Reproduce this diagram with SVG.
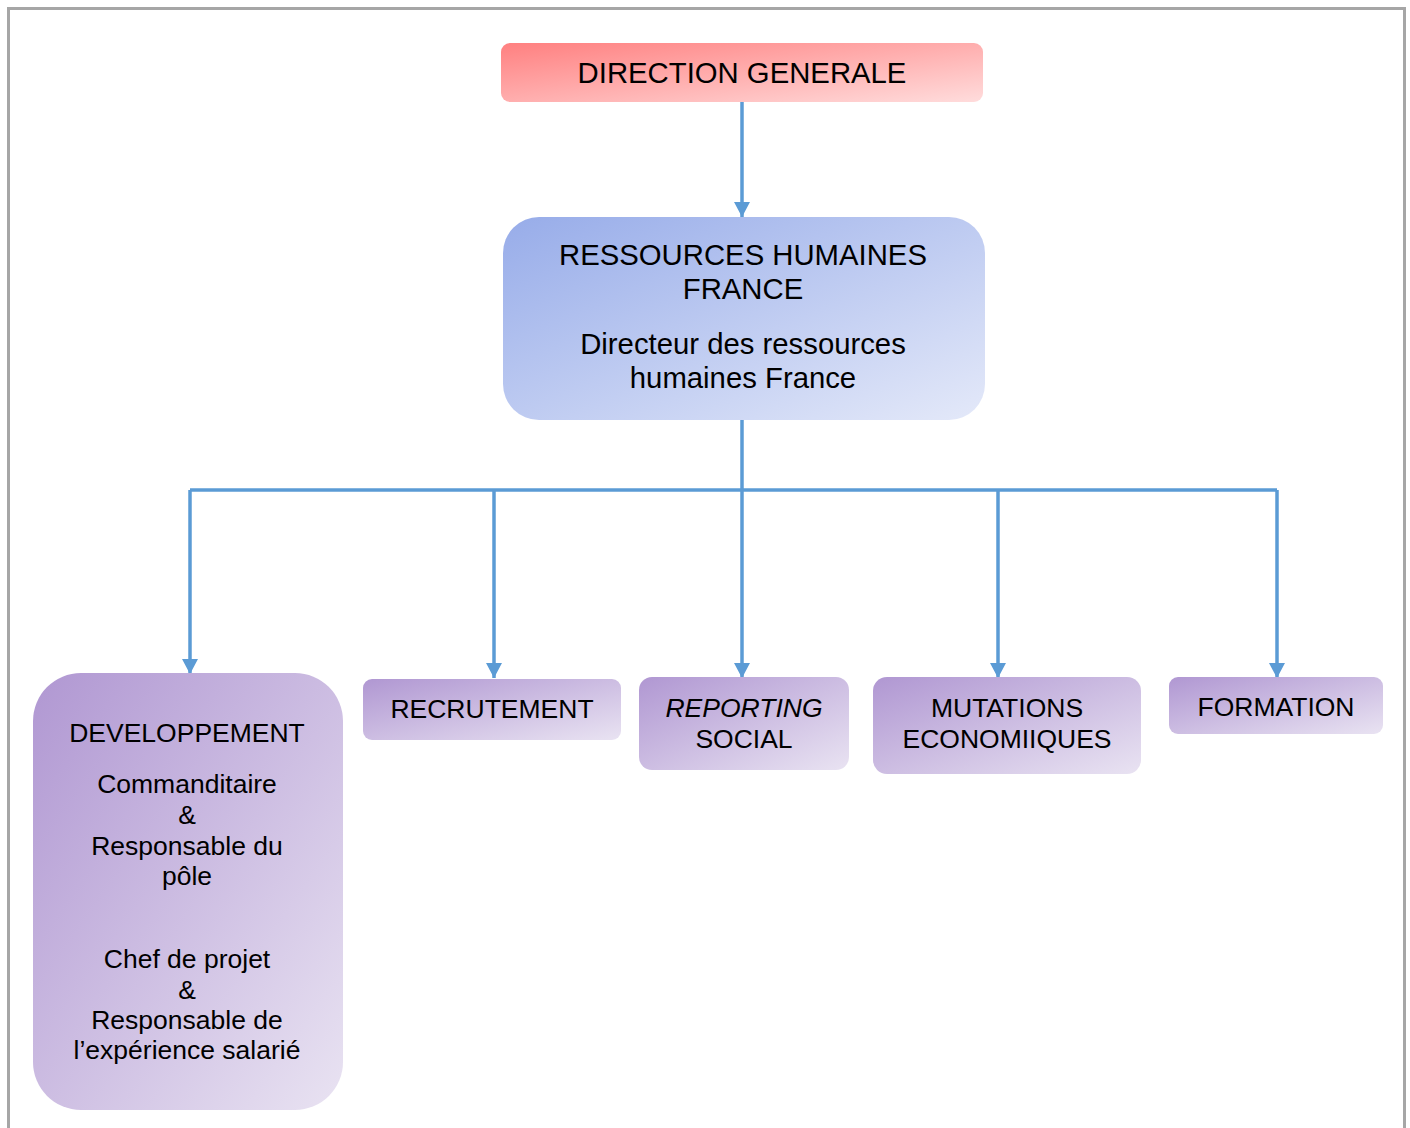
<svg xmlns="http://www.w3.org/2000/svg" width="1410" height="1128" viewBox="0 0 1410 1128">
  <style>
    .t { font-family: "Liberation Sans", Arial, sans-serif; fill: #000; text-anchor: middle; }
    .big { font-size: 29.3px; }
    .mid { font-size: 26.5px; }
    .conn { fill: none; stroke: #5b9bd5; stroke-width: 3.5; }
  </style>
  <defs>
    <linearGradient id="gRed" x1="0" y1="0" x2="1" y2="1">
      <stop offset="0" stop-color="#ff8080"/>
      <stop offset="1" stop-color="#ffdcdc"/>
    </linearGradient>
    <linearGradient id="gBlue" x1="0" y1="0" x2="1" y2="1">
      <stop offset="0" stop-color="#97ace9"/>
      <stop offset="1" stop-color="#e4e9f9"/>
    </linearGradient>
    <linearGradient id="gPurple" x1="0" y1="0" x2="1" y2="1">
      <stop offset="0" stop-color="#b097d2"/>
      <stop offset="1" stop-color="#e9e3f2"/>
    </linearGradient>
    <!-- filled triangular arrowhead, tip at the end of the line -->
    <marker id="arr" markerUnits="userSpaceOnUse" markerWidth="16" markerHeight="16" viewBox="0 0 16 16" refX="15" refY="8" orient="auto">
      <path d="M0,0 L15,8 L0,16 Z" fill="#5b9bd5"/>
    </marker>
  </defs>

  <!-- page frame -->
  <rect x="0" y="0" width="1410" height="1128" fill="#fff"/>
  <path d="M8.5,1128 V8.5 H1404.5 V1128" fill="none" stroke="#a6a6a6" stroke-width="3"/>

  <!-- connectors -->
  <g id="connectors">
    <path class="conn" d="M742,102 V217" marker-end="url(#arr)"/>
    <path class="conn" d="M742,420 V490"/>
    <path class="conn" d="M190,490 H1277"/>
    <path class="conn" d="M190,490 V674" marker-end="url(#arr)"/>
    <path class="conn" d="M494,490 V678" marker-end="url(#arr)"/>
    <path class="conn" d="M742,490 V678" marker-end="url(#arr)"/>
    <path class="conn" d="M998,490 V678" marker-end="url(#arr)"/>
    <path class="conn" d="M1277,490 V678" marker-end="url(#arr)"/>
  </g>

  <g id="direction-generale">
    <rect x="501" y="43" width="482" height="59" rx="9" fill="url(#gRed)"/>
    <text class="t big" x="742" y="83">DIRECTION GENERALE</text>
  </g>

  <g id="rh-france">
    <rect x="503" y="217" width="482" height="203" rx="36" fill="url(#gBlue)"/>
    <text class="t big" x="743" y="265">RESSOURCES HUMAINES</text>
    <text class="t big" x="743" y="299">FRANCE</text>
    <text class="t big" x="743" y="354">Directeur des ressources</text>
    <text class="t big" x="743" y="388">humaines France</text>
  </g>

  <g id="developpement">
    <rect x="33" y="673" width="310" height="437" rx="48" fill="url(#gPurple)"/>
    <text class="t mid" x="187" y="742">DEVELOPPEMENT</text>
    <text class="t mid" x="187" y="793">Commanditaire</text>
    <text class="t mid" x="187" y="824">&amp;</text>
    <text class="t mid" x="187" y="855">Responsable du</text>
    <text class="t mid" x="187" y="885">pôle</text>
    <text class="t mid" x="187" y="968">Chef de projet</text>
    <text class="t mid" x="187" y="999">&amp;</text>
    <text class="t mid" x="187" y="1029">Responsable de</text>
    <text class="t mid" x="187" y="1059">l’expérience salarié</text>
  </g>

  <g id="recrutement">
    <rect x="363" y="679" width="258" height="61" rx="9" fill="url(#gPurple)"/>
    <text class="t mid" x="492" y="718">RECRUTEMENT</text>
  </g>

  <g id="reporting-social">
    <rect x="639" y="677" width="210" height="93" rx="13" fill="url(#gPurple)"/>
    <text class="t mid" x="744" y="717" font-style="italic">REPORTING</text>
    <text class="t mid" x="744" y="748">SOCIAL</text>
  </g>

  <g id="mutations-economiques">
    <rect x="873" y="677" width="268" height="97" rx="14" fill="url(#gPurple)"/>
    <text class="t mid" x="1007" y="717">MUTATIONS</text>
    <text class="t mid" x="1007" y="748">ECONOMIIQUES</text>
  </g>

  <g id="formation">
    <rect x="1169" y="677" width="214" height="57" rx="9" fill="url(#gPurple)"/>
    <text class="t mid" x="1276" y="716">FORMATION</text>
  </g>
</svg>
